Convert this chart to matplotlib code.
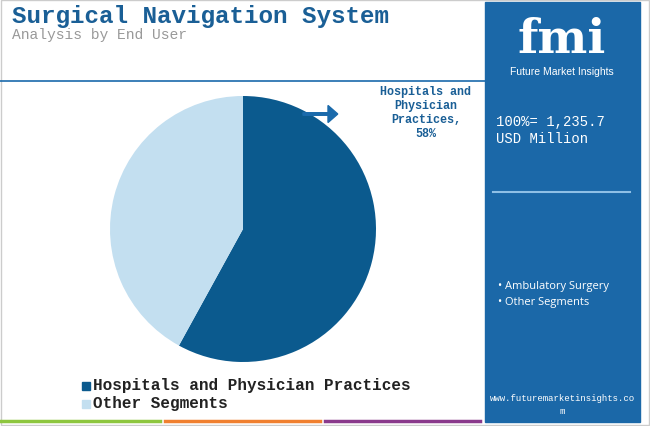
import matplotlib.pyplot as plt
from matplotlib.patches import Rectangle, FancyArrow

labels = ["Hospitals and Physician Practices", "Other Segments"]
shares = [58, 42]
colors = ["#0b5a8e", "#c3dff0"]
side_items = ["Ambulatory Surgery", "Other Segments"]

MONO = "Liberation Mono"

fig = plt.figure(figsize=(6.5, 4.27), dpi=100)
W, H = 650, 427

def fx(x):
    return x / W

def fy(y):
    return 1 - y / H

# outer frame
fig.add_artist(Rectangle((0.002, 0.002), 0.996, 0.996, transform=fig.transFigure,
                         fill=False, ec="#cccccc", lw=1))

# title
fig.text(fx(12), fy(17), "Surgical Navigation System", fontfamily=MONO, fontweight="bold",
         fontsize=17.5, color="#1a5f96", va="center")
fig.text(fx(12), fy(35), "Analysis by End User", fontfamily=MONO, fontsize=10.5,
         color="#999999", va="center")
fig.add_artist(plt.Line2D([0, fx(485)], [fy(82), fy(82)], transform=fig.transFigure,
                          color="#1a6aab", lw=1.2))

# right panel
fig.add_artist(Rectangle((fx(485), fy(423)), fx(155), (423 - 3) / H, transform=fig.transFigure,
                         color="#1b68a8", zorder=0))
fig.text(fx(562), fy(40), "fmi", fontfamily="DejaVu Serif", fontweight="bold", fontsize=34,
         color="white", ha="center", va="center")
fig.text(fx(562), fy(72), "Future Market Insights", fontfamily="Liberation Sans", fontsize=7.5,
         color="white", ha="center", va="center")
fig.text(fx(496), fy(122), "100%= 1,235.7", fontfamily=MONO, fontsize=10, color="white", va="center")
fig.text(fx(496), fy(139), "USD Million", fontfamily=MONO, fontsize=10, color="white", va="center")
fig.add_artist(plt.Line2D([fx(493), fx(630)], [fy(193), fy(193)], transform=fig.transFigure,
                          color="#8fc0e6", lw=1.5))
for i, item in enumerate(side_items):
    fig.text(fx(498), fy(287 + 16 * i), "\u2022 " + item, fontfamily="Open Sans", fontsize=8,
             color="white", va="center")
fig.text(fx(562), fy(399), "www.futuremarketinsights.co", fontfamily=MONO, fontsize=6.5,
         color="white", ha="center", va="center")
fig.text(fx(562), fy(412), "m", fontfamily=MONO, fontsize=6.5, color="white",
         ha="center", va="center")

# bottom color strips
for x0, x1, c in [(0, 160, "#8dc63f"), (165, 320, "#f08030"), (325, 480, "#8a3a8c")]:
    fig.add_artist(plt.Line2D([fx(x0), fx(x1)], [fy(422), fy(422)], transform=fig.transFigure,
                              color=c, lw=2.5))

# pie
r = 133
ax = fig.add_axes([fx(243 - r), fy(230 + r), 2 * r / W, 2 * r / H])
ax.pie(shares, colors=colors, startangle=90, counterclock=False)
ax.set_xlim(-1, 1)
ax.set_ylim(-1, 1)
ax.set_aspect("auto")

fig.text(fx(426), fy(113), "Hospitals and\nPhysician\nPractices,\n58%", fontfamily=MONO,
         fontweight="bold", fontsize=8.5, color="#1a5f96", ha="center", va="center",
         linespacing=1.25)
fig.add_artist(FancyArrow(fx(303), fy(115), fx(25), 0, width=0.006, head_width=0.04,
                          head_length=0.015, transform=fig.transFigure, color="#1a6aab",
                          zorder=5))

# legend
for i, (lab, c) in enumerate(zip(labels, colors)):
    y = 386 + 18 * i
    fig.add_artist(Rectangle((fx(82), fy(y + 5)), fx(8), 8 / H, transform=fig.transFigure, color=c))
    fig.text(fx(93), fy(y), lab, fontfamily=MONO, fontweight="bold", fontsize=11.5,
             color="#222222", va="center")

fig.savefig("out.png", dpi=100)
